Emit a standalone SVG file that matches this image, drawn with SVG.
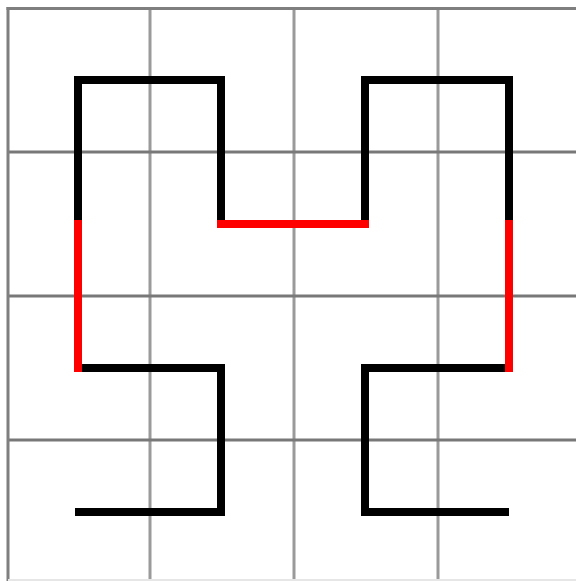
<svg xmlns="http://www.w3.org/2000/svg" width="576" height="581" viewBox="0 0 576 581">
<style>
.v{stroke:#9a9a9a;stroke-width:3}
.h{stroke:#787878;stroke-width:3}
.b{stroke:#7f7f7f;stroke-width:3}
.k{fill:none;stroke:#000;stroke-width:8;stroke-linecap:butt;stroke-linejoin:miter}
.r{fill:none;stroke:#ff0000;stroke-width:8;stroke-linecap:square}
</style>
<rect width="576" height="581" fill="#fff"/>
<g id="grid">
<line class="v" x1="150" y1="8" x2="150" y2="581"/>
<line class="v" x1="294" y1="8" x2="294" y2="581"/>
<line class="v" x1="438" y1="8" x2="438" y2="581"/>
<line class="h" x1="8" y1="152" x2="576" y2="152"/>
<line class="h" x1="8" y1="296" x2="576" y2="296"/>
<line class="h" x1="8" y1="440" x2="576" y2="440"/>
<line class="b" x1="6.5" y1="8.5" x2="576" y2="8.5"/>
<line class="b" x1="8" y1="7" x2="8" y2="581"/>
<line stroke="#e6e6e6" stroke-width="2" x1="8" y1="580" x2="576" y2="580"/>
</g>
<g id="connectors">
<polyline class="k" points="75,512 221,512 221,368 78,368"/>
<polyline class="k" points="78,224 78,80 221,80 221,224"/>
<polyline class="k" points="365,224 365,80 509,80 509,224"/>
<polyline class="k" points="509,368 365,368 365,512 509,512"/>
<line class="r" x1="78" y1="368" x2="78" y2="224"/>
<line class="r" x1="221" y1="224" x2="365" y2="224"/>
<line class="r" x1="509" y1="224" x2="509" y2="368"/>
</g>
</svg>
